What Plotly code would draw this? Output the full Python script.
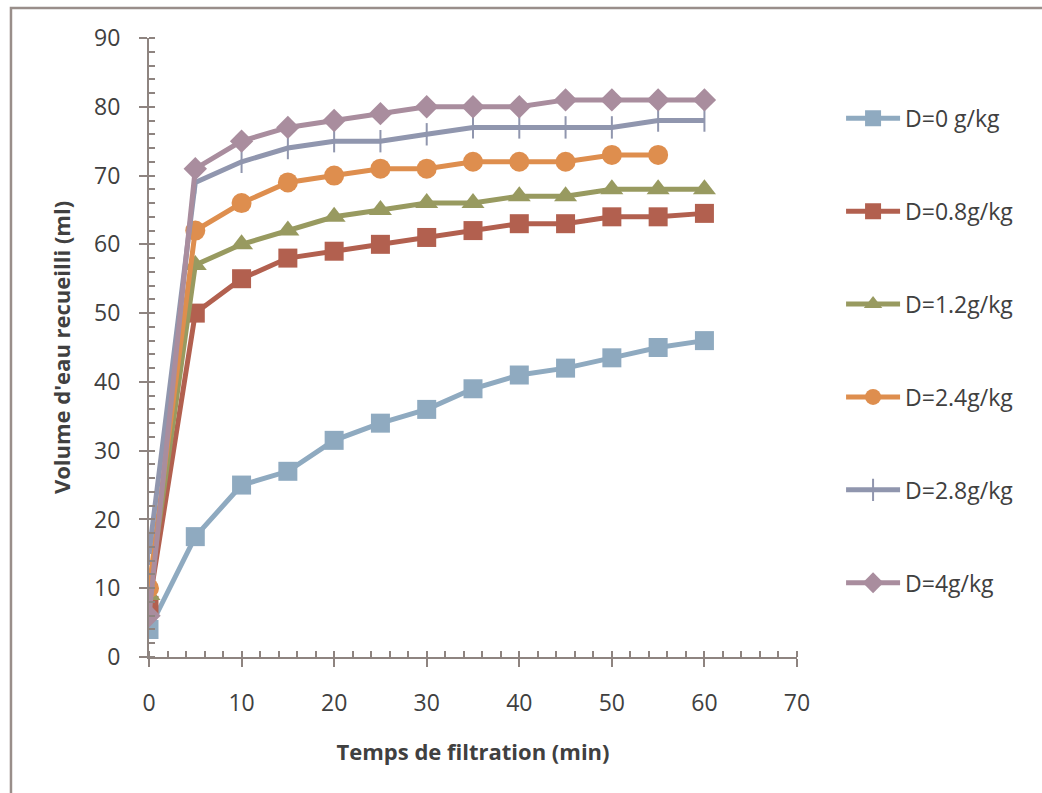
import plotly.graph_objects as go

time_min = [0, 5, 10, 15, 20, 25, 30, 35, 40, 45, 50, 55, 60]
time_min_24 = [0, 5, 10, 15, 20, 25, 30, 35, 40, 45, 50, 55]

d0 = [4, 17.5, 25, 27, 31.5, 34, 36, 39, 41, 42, 43.5, 45, 46]
d08 = [7.5, 50, 55, 58, 59, 60, 61, 62, 63, 63, 64, 64, 64.5]
d12 = [9, 57, 60, 62, 64, 65, 66, 66, 67, 67, 68, 68, 68]
d24 = [10, 62, 66, 69, 70, 71, 71, 72, 72, 72, 73, 73]
d28 = [15, 69, 72, 74, 75, 75, 76, 77, 77, 77, 77, 78, 78]
d4 = [6, 71, 75, 77, 78, 79, 80, 80, 80, 81, 81, 81, 81]

names = ["D=0 g/kg", "D=0.8g/kg", "D=1.2g/kg", "D=2.4g/kg", "D=2.8g/kg", "D=4g/kg"]
colors = ["#8FAAC0", "#B2604F", "#989A60", "#DE8E4E", "#9096AE", "#A98D9E"]
symbols = ["square", "square", "triangle-up", "circle", "line-ns", "diamond"]
sizes = [19, 19, 20, 20, 16, 18]

series = [(time_min, d0), (time_min, d08), (time_min, d12),
          (time_min_24, d24), (time_min, d28), (time_min, d4)]

font_family = "Open Sans, sans-serif"
text_color = "#404040"
axis_color = "#8E8480"

fig = go.Figure()
for i, ((xs, ys), name) in enumerate(zip(series, names)):
    marker = dict(symbol=symbols[i], size=sizes[i], color=colors[i])
    if symbols[i] == "line-ns":
        marker["line"] = dict(color=colors[i], width=2)
    else:
        marker["line"] = dict(width=0)
    fig.add_trace(go.Scatter(
        x=xs, y=ys, name=name, mode="lines+markers",
        line=dict(color=colors[i], width=5),
        marker=marker, legendgroup=name,
    ))

fig.update_layout(
    width=1042, height=793,
    margin=dict(l=149, r=245, t=38, b=136),
    paper_bgcolor="white", plot_bgcolor="white",
    font=dict(family=font_family, size=23, color=text_color),
    showlegend=True,
    legend=dict(
        x=1.068, xanchor="left", y=0.905, yanchor="top",
        tracegroupgap=60, font=dict(size=23, color=text_color),
        itemwidth=54, bgcolor="rgba(0,0,0,0)",
    ),
    xaxis=dict(
        range=[0, 70], dtick=10, tick0=0, showgrid=False, zeroline=False,
        showline=True, linecolor=axis_color, linewidth=2,
        ticks="outside", ticklen=8, tickwidth=2, tickcolor=axis_color,
        ticklabelstandoff=16,
        minor=dict(dtick=2, ticks="inside", ticklen=6, tickwidth=1.5, tickcolor=axis_color),
        title=dict(text="<b>Temps de filtration (min)</b>", standoff=28,
                   font=dict(size=22, color=text_color)),
    ),
    yaxis=dict(
        range=[0, 90], dtick=10, tick0=0, showgrid=False, zeroline=False,
        showline=True, linecolor=axis_color, linewidth=2,
        ticks="outside", ticklen=8, tickwidth=2, tickcolor=axis_color,
        ticklabelstandoff=14,
        minor=dict(dtick=2, ticks="inside", ticklen=6, tickwidth=1.5, tickcolor=axis_color),
        title=dict(text="<b>Volume d'eau recueilli (ml)</b>", standoff=17,
                   font=dict(size=22, color=text_color)),
    ),
    shapes=[dict(type="rect", xref="paper", yref="paper",
                 x0=-0.213, y0=-1, x1=2, y1=1.0485,
                 line=dict(color="#998E8A", width=2.5), layer="below")],
)

fig.write_html("out.html")
